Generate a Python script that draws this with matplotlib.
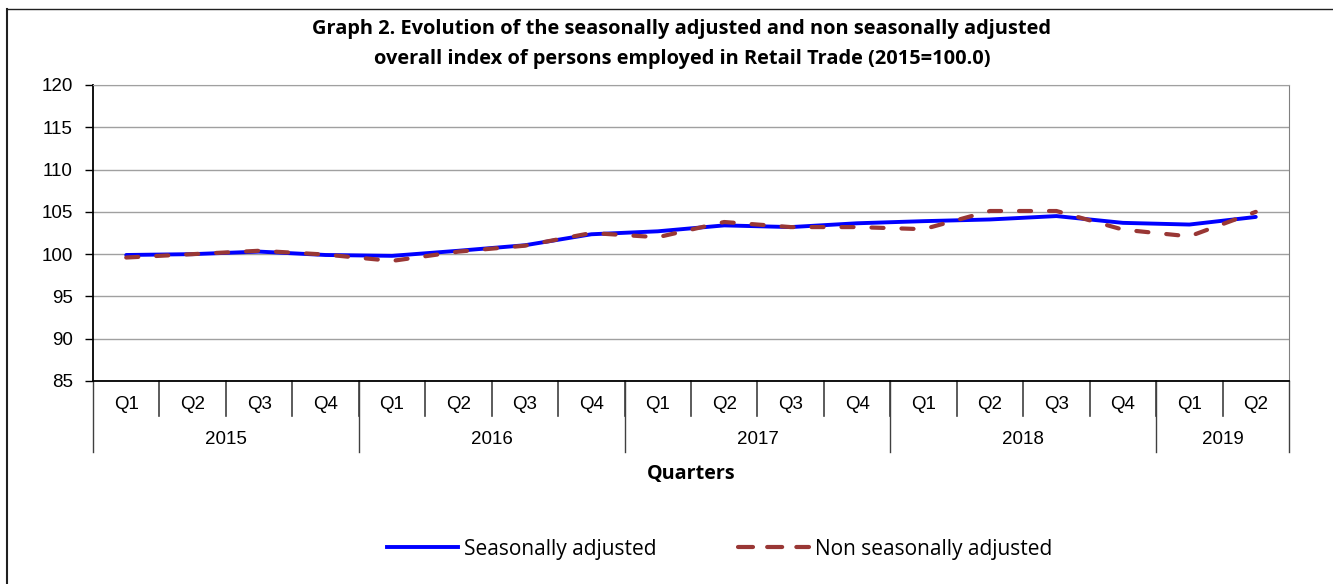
import matplotlib
matplotlib.use("Agg")
import matplotlib.pyplot as plt
from matplotlib.lines import Line2D

years = ["2015", "2016", "2017", "2018", "2019"]
quarters_per_year = [4, 4, 4, 4, 2]
quarter_labels = ["Q1", "Q2", "Q3", "Q4"] * 4 + ["Q1", "Q2"]
seasonally_adjusted = [99.9, 100.0, 100.3, 99.9, 99.8, 100.4, 101.05, 102.35, 102.7,
                       103.4, 103.2, 103.65, 103.9, 104.1, 104.5, 103.7, 103.5, 104.4]
non_seasonally_adjusted = [99.6, 100.0, 100.4, 99.95, 99.2, 100.3, 101.0, 102.5, 102.0,
                           103.8, 103.2, 103.2, 102.95, 105.1, 105.1, 102.9, 102.1, 105.0]
yticks = [85, 90, 95, 100, 105, 110, 115, 120]

W, H = 1333, 584
ARIAL = "Liberation Sans"
CAL = "Open Sans"
fig = plt.figure(figsize=(W / 100, H / 100), dpi=100)
ax = fig.add_axes([93 / W, 1 - 381 / H, (1289 - 93) / W, (381 - 85) / H])

x = list(range(len(quarter_labels)))
ax.plot(x, seasonally_adjusted, color="#0000FF", lw=2.8, solid_capstyle="round",
        solid_joinstyle="round", zorder=3)
ax.plot(x, non_seasonally_adjusted, color="#993735", lw=3.0, dashes=(2.9, 4.3),
        dash_capstyle="round", zorder=4)

ax.set_xlim(-0.5, len(x) - 0.5)
ax.set_ylim(85, 120)
ax.set_yticks(yticks)
ax.set_yticklabels([str(v) for v in yticks], fontfamily=ARIAL, fontsize=13.5)
ax.tick_params(axis="y", direction="out", length=6, width=1, color="black", pad=8.5)
ax.set_xticks([])
ax.grid(axis="y", color="#a0a0a0", lw=1)
ax.set_axisbelow(True)
ax.spines["left"].set_color("black")
ax.spines["bottom"].set_color("black")
ax.spines["top"].set_color("#a0a0a0")
ax.spines["right"].set_color("#808080")
ax.spines["bottom"].set_linewidth(1.3)
ax.spines["left"].set_linewidth(1.3)

trans = ax.get_xaxis_transform()
for i, q in enumerate(quarter_labels):
    ax.text(i, -0.081, q, transform=trans, ha="center", va="center",
            fontfamily=ARIAL, fontsize=13.5)
for i in range(1, len(x)):
    ax.plot([i - 0.5, i - 0.5], [0, -0.118], transform=trans, color="#404040",
            lw=1.2, clip_on=False)
start = 0
bounds = [-0.5]
for y, n in zip(years, quarters_per_year):
    ax.text(start + (n - 1) / 2, -0.199, y, transform=trans, ha="center", va="center",
            fontfamily=ARIAL, fontsize=13.5)
    start += n
    bounds.append(start - 0.5)
for b in bounds:
    ax.plot([b, b], [0, -0.240], transform=trans, color="#404040", lw=1.0, clip_on=False)

fig.text(682 / W, 1 - 44 / H,
         "Graph 2. Evolution of the seasonally adjusted and non seasonally adjusted\n"
         "overall index of persons employed in Retail Trade (2015=100.0)",
         ha="center", va="center", fontfamily=CAL, fontweight="bold", fontsize=14.4,
         linespacing=1.65)
fig.text(691 / W, 1 - 474 / H, "Quarters", ha="center", va="center",
         fontfamily=CAL, fontweight="bold", fontsize=14.2)

handles = [Line2D([], [], color="#0000FF", lw=2.8),
           Line2D([], [], color="#993735", lw=3.0, dashes=(3.6, 3.4), dash_capstyle="round")]
leg = fig.legend(handles, ["Seasonally adjusted", "Non seasonally adjusted"],
                 loc="center", bbox_to_anchor=(720 / W, 1 - 549 / H), ncol=2,
                 frameon=False, handlelength=3.4, handletextpad=0.3, columnspacing=3.9,
                 prop={"family": CAL, "size": 15})

fig.add_artist(Line2D([7.5 / W, 7.5 / W], [0, 1 - 9 / H], color="#202020", lw=1.5))
fig.add_artist(Line2D([7.5 / W, 1], [1 - 9 / H, 1 - 9 / H], color="#202020", lw=1.0))

fig.savefig("out.png", dpi=100)
